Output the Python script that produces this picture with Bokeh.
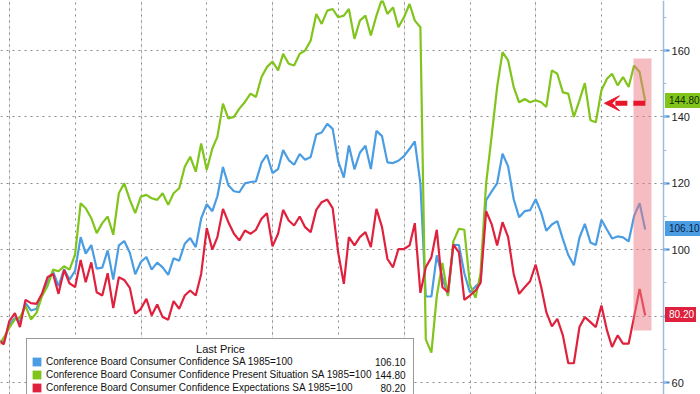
import pandas as pd
from bokeh.plotting import figure
from bokeh.models import (Range1d, Grid, FixedTicker, SingleIntervalTicker, Legend, LegendItem,
                          BoxAnnotation, Arrow, VeeHead)
from bokeh.embed import file_html
from bokeh.resources import INLINE

# ---------------- data (monthly, Oct 2013 .. Aug 2023) ----------------
first_month = "2013-10-01"
last_month = "2023-08-01"
grid_years = list(range(2014, 2024))

cci = [72.4, 72.0, 77.5,
       79.4, 78.3, 83.9, 81.7, 82.2, 86.4, 90.3, 93.4, 89.0, 94.1, 91.0, 93.6,
       103.8, 98.8, 101.4, 94.3, 94.6, 99.8, 91.0, 101.3, 102.6, 99.1, 92.6, 96.3,
       97.8, 94.0, 96.1, 94.7, 92.4, 97.4, 96.7, 101.8, 103.5, 100.8, 109.4, 113.7,
       111.6, 116.1, 124.9, 119.4, 117.6, 117.3, 120.0, 120.4, 120.6, 126.2, 128.6, 123.1,
       124.3, 130.0, 127.0, 125.6, 128.8, 127.1, 127.9, 134.7, 135.3, 137.9, 136.4, 126.6,
       121.7, 131.4, 124.2, 129.2, 131.3, 124.3, 135.8, 134.2, 126.3, 126.1, 126.8, 128.2,
       130.4, 132.6, 120.0, 85.9, 85.9, 98.3, 91.7, 86.3, 101.5, 101.4, 92.9, 87.1,
       88.9, 90.4, 114.9, 117.5, 120.0, 128.9, 125.1, 115.2, 109.8, 111.6, 111.9, 115.2,
       111.1, 105.7, 107.6, 108.6, 103.2, 98.4, 95.3, 103.6, 107.8, 102.2, 101.4, 109.0,
       106.0, 103.4, 104.0, 103.7, 102.5, 110.1, 114.0, 106.1]

present = [71.0, 73.5, 76.5,
           79.0, 79.5, 83.0, 79.0, 81.0, 86.0, 89.0, 94.0, 93.5, 95.0, 94.0, 98.5,
           114.0, 112.5, 109.5, 105.0, 108.0, 110.0, 104.5, 117.0, 120.0, 115.0, 111.0, 116.0,
           116.5, 115.5, 115.0, 117.0, 113.5, 117.0, 118.5, 125.0, 128.0, 123.5, 132.0, 124.0,
           130.5, 134.0, 144.0, 139.5, 140.0, 142.5, 144.5, 147.0, 146.0, 152.0, 155.0, 156.7,
           154.0, 159.0, 156.0, 155.5, 159.0, 160.0, 163.0, 171.0, 168.0, 172.0, 172.5, 170.0,
           170.5, 172.5, 163.5, 169.0, 170.5, 164.5, 170.5, 175.5, 171.0, 173.0, 167.0, 170.0,
           174.0, 169.0, 167.0, 73.0, 69.0, 86.0, 96.0, 86.0, 102.5, 106.3, 106.0, 89.5,
           85.5, 93.0, 120.0, 134.0, 149.0, 159.5, 157.0, 149.0, 144.4, 145.4, 144.4, 145.0,
           144.4, 143.0, 154.0, 153.0, 147.4, 147.0, 140.0, 145.0, 150.2, 139.0, 138.4, 148.0,
           151.5, 153.0, 149.5, 152.0, 149.0, 155.5, 153.5, 144.8]

expect = [73.0, 71.5, 78.5,
          80.9, 76.7, 84.9, 83.9, 83.7, 86.7, 91.7, 92.7, 86.7, 93.9, 89.9, 88.7,
          96.9, 90.2, 96.2, 87.2, 86.2, 92.9, 82.4, 91.7, 90.9, 88.5, 80.7, 82.2,
          85.2, 80.2, 83.5, 79.7, 78.9, 84.5, 82.2, 86.2, 87.7, 86.2, 92.7, 106.5,
          100.0, 103.8, 112.3, 108.3, 104.8, 102.8, 105.8, 104.8, 106.0, 109.3, 111.0, 101.0,
          104.8, 112.0, 108.8, 107.3, 110.0, 106.8, 105.3, 112.0, 114.3, 115.1, 112.5, 99.0,
          89.7, 103.8, 101.3, 103.8, 105.3, 100.8, 112.3, 106.8, 97.2, 94.7, 100.2, 100.2,
          101.3, 108.0, 87.0, 94.7, 97.7, 106.0, 88.7, 87.2, 101.5, 99.2, 84.9, 86.2,
          87.7, 90.0, 111.6, 107.8, 101.3, 108.3, 103.8, 92.7, 86.7, 88.7, 90.5, 95.5,
          88.7, 81.2, 76.9, 79.2, 74.2, 65.8, 65.8, 76.7, 79.7, 78.2, 76.7, 83.2,
          75.7, 70.7, 74.2, 71.7, 71.7, 79.7, 88.2, 80.2]

names = ["Conference Board Consumer Confidence SA 1985=100",
         "Conference Board Consumer Confidence Present Situation SA 1985=100",
         "Conference Board Consumer Confidence Expectations SA 1985=100"]
legend_title = "Last Price"

y_ticks_interval = 20

# ---------------- styling ----------------
BLUE = "#4a9de3"
GREEN = "#80c41c"
RED = "#e0213d"
FONT = "Liberation Sans"
W, H = 700, 394
Y0, Y1 = 56.39, 175.06
AXIS_AT = "2023-12-11"      # where the value axis is drawn
AXIS_PX = 663               # its pixel position
LEGEND_Y = -4

NBSP = "\u00a0"
FIGSP = "\u2007"

dates = pd.date_range(first_month, last_month, freq="MS") + pd.offsets.MonthEnd(0)

def ms(s):
    return pd.Timestamp(s).timestamp() * 1000.0

p = figure(width=W, height=H, x_axis_type="datetime", x_axis_location=None,
           y_axis_location="right",
           x_range=Range1d(ms("2013-11-12"), ms("2024-07-03")),
           y_range=Range1d(Y0, Y1),
           output_backend="svg", toolbar_location=None,
           min_border_left=0, min_border_right=0, min_border_top=0, min_border_bottom=0)
p.outline_line_color = None
p.background_fill_color = "white"

# right value axis, drawn at a fixed date
ax = p.yaxis[0]
ax.fixed_location = ms(AXIS_AT)
ax.ticker = SingleIntervalTicker(interval=y_ticks_interval, num_minor_ticks=2)
ax.axis_line_color = "#9ebde3"
ax.axis_line_width = 1.5
ax.major_tick_line_color = "#3f86d6"
ax.major_tick_line_width = 2
ax.major_tick_in = 0
ax.major_tick_out = 6
ax.minor_tick_in = 0
ax.minor_tick_out = 3
ax.minor_tick_line_color = "#9ebde3"
ax.major_label_text_font = FONT
ax.major_label_text_font_size = "11px"
ax.major_label_text_color = "#222222"
ax.major_label_standoff = 2

# grids
p.ygrid.grid_line_color = "#8a8a8a"
p.ygrid.grid_line_dash = "2 4"
p.ygrid.grid_line_width = 1
year_ticks = [ms(f"{y}-01-01") for y in grid_years]
p.add_layout(Grid(dimension=0, ticker=FixedTicker(ticks=year_ticks), grid_line_color="#8a8a8a",
                  grid_line_dash="2 4", grid_line_width=1))
# keep the axis gutter clean
p.add_layout(BoxAnnotation(left=ms(AXIS_AT), fill_color="white", fill_alpha=1, line_alpha=0,
                           level="underlay"))

# series
r_blue = p.line(dates, cci, line_color=BLUE, line_width=2.2)
r_green = p.line(dates, present, line_color=GREEN, line_width=2.2)
r_red = p.line(dates, expect, line_color=RED, line_width=2.2)
series = [(r_blue, cci, BLUE, "#0a1f44"), (r_green, present, GREEN, "#0f2a00"),
          (r_red, expect, RED, "white")]

# highlight box over the last three months
p.add_layout(BoxAnnotation(left=ms("2023-06-27"), right=ms("2023-10-05"), bottom=75.7, top=157.6,
                           fill_color="#ec7a84", fill_alpha=0.5, line_alpha=0))

# dashed arrow pointing at the present-situation level
p.add_layout(Arrow(x_start=ms("2023-09-01"), y_start=144.1, x_end=ms("2023-01-17"), y_end=144.1,
                   line_color="#e8162b", line_width=5, line_dash="12 6",
                   end=VeeHead(size=15, fill_color="#e8162b", line_color="#e8162b", line_width=1)))

# legend with square keys (zero-area quads as key proxies)
keys = []
for r, vals, col, _ in series:
    keys.append(p.quad(left=[dates[-1]], right=[dates[-1]], bottom=[vals[-1]], top=[vals[-1]],
                       fill_color=col, line_color=col, line_alpha=0))
common = dict(title_text_font=FONT, title_text_font_size="11px", title_standoff=1,
              title_text_color="#111111", title_text_font_style="normal",
              label_text_font=FONT, label_text_font_size="10px", label_text_color="#111111",
              label_height=11, glyph_height=11, spacing=2, padding=4, margin=0)
legend = Legend(items=[LegendItem(label=n, renderers=[k]) for n, k in zip(names, keys)],
                location=(26, LEGEND_Y), title=NBSP * 54 + legend_title,
                glyph_width=11, label_standoff=4, label_width=363,
                border_line_color="#333333", border_line_width=1,
                background_fill_color="white", background_fill_alpha=1, **common)
p.add_layout(legend)

# right-hand "last price" column of the legend
vals_txt = [f"{s[1][-1]:.2f}" for s in series]
width = max(len(t) for t in vals_txt)
vals_txt = [FIGSP * (width - len(t)) + t for t in vals_txt]
values = Legend(items=[LegendItem(label=t, renderers=[s[0]]) for t, s in zip(vals_txt, series)],
                location=(371, LEGEND_Y), title=NBSP, glyph_width=0, label_standoff=0,
                border_line_alpha=0, background_fill_alpha=0, **common)
p.add_layout(values)

# value tags on the axis (single-item legends, placed at the last value)
tag_h = 15
for r, vals, col, fg in series:
    v = vals[-1]
    py = (v - Y0) / (Y1 - Y0) * H - tag_h / 2
    tag = Legend(items=[LegendItem(label=f"{v:.2f}", renderers=[r])], location=(AXIS_PX + 2, py),
                 glyph_width=0, glyph_height=11, label_standoff=2, label_height=11, padding=2,
                 margin=0, spacing=0, label_text_font=FONT, label_text_font_size="10px",
                 label_text_color=fg, background_fill_color=col, background_fill_alpha=1,
                 border_line_alpha=0)
    p.add_layout(tag)

open("out.html", "w").write(file_html(p, INLINE))
